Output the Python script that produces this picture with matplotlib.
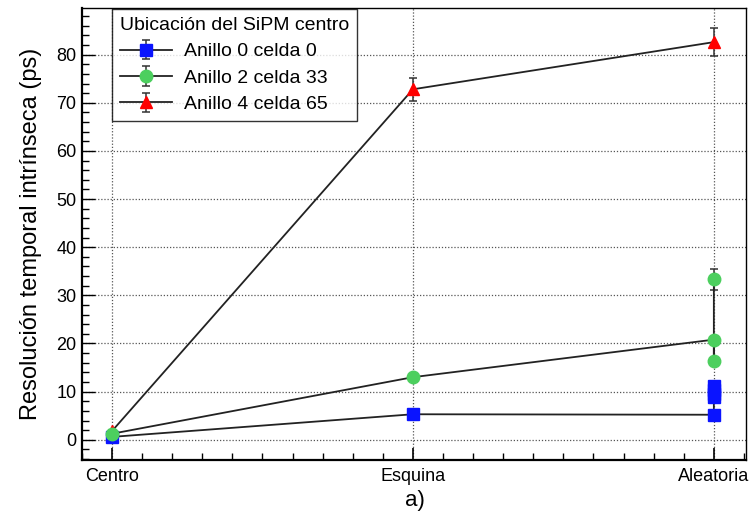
import matplotlib.pyplot as plt
from matplotlib.ticker import MultipleLocator

plt.rcParams['font.family'] = ['Liberation Sans', 'DejaVu Sans']

categories = ["Centro", "Esquina", "Aleatoria"]

# x index for each point (several random configurations sit at "Aleatoria")
x_anillo0 = [0, 1, 2, 2, 2, 2, 2]
y_anillo0 = [0.6, 5.3, 5.2, 8.8, 9.5, 10.3, 11.1]
e_anillo0 = [0.3, 0.4, 0.4, 0.6, 0.6, 0.6, 0.6]

x_anillo2 = [0, 1, 2, 2, 2]
y_anillo2 = [1.25, 13.0, 20.8, 16.3, 33.3]
e_anillo2 = [0.3, 0.6, 0.8, 0.7, 2.1]

x_anillo4 = [0, 1, 2]
y_anillo4 = [1.8, 72.8, 82.6]
e_anillo4 = [0.3, 2.4, 2.9]

labels = ["Anillo 0 celda 0", "Anillo 2 celda 33", "Anillo 4 celda 65"]

fig = plt.figure(figsize=(7.51, 5.19), dpi=100)
ax = fig.add_axes([0.109, 0.1137, 0.884, 0.871])

series = [
    (x_anillo4, y_anillo4, e_anillo4, "^", "#ff0000", 2, 9),
    (x_anillo0, y_anillo0, e_anillo0, "s", "#0a14ff", 3, 8),
    (x_anillo2, y_anillo2, e_anillo2, "o", "#4ccf5e", 4, 9),
]
handles = {}
for xs, ys, es, mk, col, z, ms in series:
    h = ax.errorbar(xs, ys, yerr=es, fmt=mk + "-", color="#222222", lw=1.3,
                    mfc=col, mec=col, ms=ms, ecolor="#333333", elinewidth=1.1,
                    capsize=3, capthick=1.1, zorder=z)
    handles[mk] = h

leg = ax.legend([handles["s"], handles["o"], handles["^"]], labels,
                title="Ubicación del SiPM centro", loc="upper left",
                bbox_to_anchor=(0.045, 0.997), fontsize=14, title_fontsize=14,
                frameon=True, fancybox=False, edgecolor="black",
                borderpad=0.4, labelspacing=0.45, handlelength=2.7,
                handletextpad=0.6, borderaxespad=0.0)
leg._legend_box.align = "left"
leg.get_frame().set_linewidth(1.0)
leg.set_zorder(10)

ax.set_xlim(-0.1, 2.106)
ax.set_ylim(-4.2, 89.7)
ax.set_xticks([0, 1, 2])
ax.set_xticklabels(categories)
ax.xaxis.set_minor_locator(MultipleLocator(0.1))
ax.yaxis.set_major_locator(MultipleLocator(10))
ax.yaxis.set_minor_locator(MultipleLocator(2))

ax.tick_params(axis="both", which="both", direction="in", labelsize=13,
               color="black")
ax.tick_params(axis="y", which="major", length=9, width=1.0, pad=4)
ax.tick_params(axis="y", which="minor", length=5, width=1.0)
ax.tick_params(axis="x", which="major", length=9, width=1.2, pad=6)
ax.tick_params(axis="x", which="minor", length=5, width=1.0)

ax.grid(True, which="major", color="#555555", linestyle=(0, (1, 1.5)), lw=0.9)
ax.set_axisbelow(True)

for side in ["left", "bottom"]:
    ax.spines[side].set_linewidth(1.6)
for side in ["right", "top"]:
    ax.spines[side].set_linewidth(1.0)

ax.set_ylabel("Resolución temporal intrínseca (ps)", fontsize=17, labelpad=10)
fig.text(0.553, 0.035, "a)", fontsize=16, ha="center", va="center")

fig.savefig("out.png", dpi=100)
